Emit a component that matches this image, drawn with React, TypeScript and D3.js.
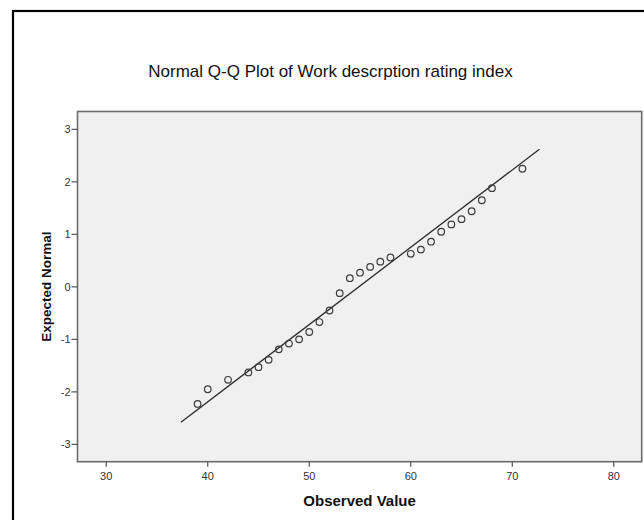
import React from "react";
import * as d3 from "d3";

const observed = [39, 40, 42, 44, 45, 46, 47, 48, 49, 50, 51, 52, 53, 54, 55, 56, 57, 58, 60, 61, 62, 63, 64, 65, 66, 67, 68, 71];
const expectedNormal = [-2.23, -1.95, -1.77, -1.63, -1.53, -1.39, -1.19, -1.08, -1.0, -0.86, -0.67, -0.45, -0.12, 0.165, 0.27, 0.38, 0.48, 0.56, 0.63, 0.71, 0.86, 1.05, 1.19, 1.29, 1.44, 1.65, 1.88, 2.25];
const refLineX = [37.36, 72.67];
const refLineY = [-2.58, 2.62];
const xTicks = [30, 40, 50, 60, 70, 80];
const yTicks = [-3, -2, -1, 0, 1, 2, 3];
const title = "Normal Q-Q Plot of Work descrption rating index";
const xTitle = "Observed Value";
const yTitle = "Expected Normal";

const W = 644;
const H = 520;
const plot = { left: 77.5, right: 641.7, top: 111.5, bottom: 461.7 };

export default function App() {
  const x = d3.scaleLinear().domain([27.17, 82.75]).range([plot.left, plot.right]);
  const y = d3.scaleLinear().domain([-3.33, 3.34]).range([plot.bottom, plot.top]);
  const line = d3
    .line<number>()
    .x((d) => x(d))
    .y((_, i) => y(refLineY[i]));
  const font = "Arial, 'Liberation Sans', sans-serif";
  return (
    <svg
      width={W}
      height={H}
      style={{ position: "absolute", left: 0, top: 0, background: "#fff" }}
      fontFamily={font}
    >
      <rect x={0} y={0} width={W} height={H} fill="#fff" />
      <rect x={13} y={11} width={W + 20} height={H + 20} fill="none" stroke="#000" strokeWidth={2.2} />
      <text x={330.5} y={77} textAnchor="middle" fontSize={17} fill="#111">
        {title}
      </text>
      <rect
        x={plot.left}
        y={plot.top}
        width={plot.right - plot.left}
        height={plot.bottom - plot.top}
        fill="#f0f0f0"
        stroke="#6b6b6b"
        strokeWidth={1.6}
      />
      {yTicks.map((t) => (
        <g key={"y" + t}>
          <line x1={plot.left - 6} x2={plot.left} y1={y(t)} y2={y(t)} stroke="#555" strokeWidth={1.2} />
          <text x={plot.left - 7} y={y(t)} dy="0.35em" textAnchor="end" fontSize={11} fill="#333">
            {t}
          </text>
        </g>
      ))}
      {xTicks.map((t) => (
        <g key={"x" + t}>
          <line x1={x(t)} x2={x(t)} y1={plot.bottom} y2={plot.bottom + 5} stroke="#555" strokeWidth={1.2} />
          <text x={x(t)} y={480} textAnchor="middle" fontSize={11} fill="#333">
            {t}
          </text>
        </g>
      ))}
      <path d={line(refLineX) || ""} fill="none" stroke="#2a2a2a" strokeWidth={1.3} />
      {observed.map((v, i) => (
        <circle
          key={i}
          cx={x(v)}
          cy={y(expectedNormal[i])}
          r={3.3}
          fill="none"
          stroke="#3c3c3c"
          strokeWidth={1.2}
        />
      ))}
      <text
        x={(plot.left + plot.right) / 2}
        y={505.5}
        textAnchor="middle"
        fontSize={15}
        fontWeight="bold"
        fill="#111"
      >
        {xTitle}
      </text>
      <text
        transform={`translate(51,${(plot.top + plot.bottom) / 2}) rotate(-90)`}
        textAnchor="middle"
        fontSize={13.5}
        fontWeight="bold"
        fill="#111"
      >
        {yTitle}
      </text>
    </svg>
  );
}
